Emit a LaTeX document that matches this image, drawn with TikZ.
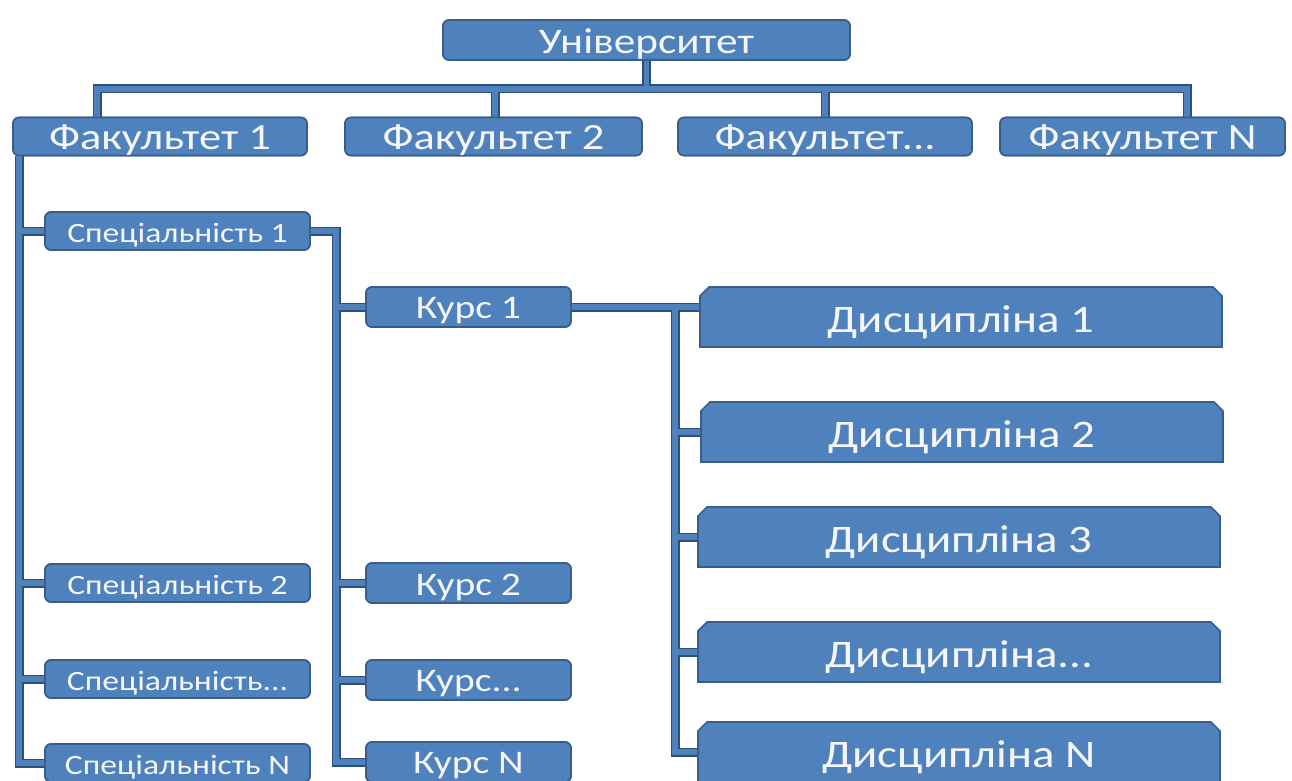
\documentclass[tikz,border=0pt]{standalone}
\usepackage{fontspec}
\setmainfont{Carlito}[FakeStretch=1.2]
\usetikzlibrary{calc}
\definecolor{boxfill}{HTML}{4F81BD}
\definecolor{boxline}{HTML}{385D8A}
\definecolor{wireline}{HTML}{2E4F78}
\definecolor{txt}{HTML}{F4F6FA}
\tikzset{
  base/.style={fill=boxfill, draw=boxline, line width=1.6pt, text=txt, inner sep=0pt, anchor=center},
  rbox/.style={base, rounded corners=6pt},
  univ/.style={rbox, minimum width=407pt, minimum height=40pt, font=\fontsize{36}{36}\selectfont},
  fac/.style={rbox, minimum height=38pt, font=\fontsize{37}{37}\selectfont},
  spec/.style={rbox, minimum width=265pt, minimum height=38pt, font=\fontsize{28}{28}\selectfont},
  kurs/.style={rbox, minimum width=205pt, minimum height=40pt, font=\fontsize{33}{33}\selectfont},
  disctext/.style={text=txt, inner sep=0pt, minimum width=522pt, minimum height=60pt, font=\fontsize{39}{39}\selectfont},
  discshape/.style={fill=boxfill, draw=boxline, line width=1.6pt},
  wireout/.style={draw=wireline, line width=9pt},
  wirein/.style={draw=boxfill, line width=5.5pt},
}
\newcommand\lw[1]{\raisebox{-4pt}[\height][\depth]{#1}}
\newcommand\discbox[4]{%
  \path[discshape] (#2-261,#3+30) -- (#2-261,#3-21) -- (#2-252,#3-30) -- (#2+252,#3-30) -- (#2+261,#3-21) -- (#2+261,#3+30) -- cycle;
  \node[disctext] (#1) at (#2,#3) {\raisebox{-5pt}[\height][\depth]{#4}};}
\begin{document}
\begin{tikzpicture}[x=1pt,y=-1pt]
\useasboundingbox (0,0) rectangle (1292,781);
\clip (0,0) rectangle (1292,781);
\fill[white] (0,0) rectangle (1292,781);
% named coordinates for connector bends
\coordinate (bus) at (0,89);
\coordinate (b1) at (97,89);
\coordinate (b2) at (495,89);
\coordinate (b3) at (825,89);
\coordinate (b4) at (1187,89);
\coordinate (sx) at (19,0);
\coordinate (kx) at (336,0);
\coordinate (dx) at (675,0);
% node placement (boxes are drawn again on top of the wires)
\path node[univ] (U) at (646.5,40) {}
  node[fac, minimum width=294pt] (F1) at (160,136.5) {}
  node[fac, minimum width=297pt] (F2) at (493.5,136.5) {}
  node[fac, minimum width=294pt] (F3) at (825,136.5) {}
  node[fac, minimum width=285pt] (F4) at (1142.5,136.5) {}
  node[spec] (S1) at (177.5,231) {}
  node[spec] (S2) at (177.5,583) {}
  node[spec] (S3) at (177.5,679) {}
  node[spec] (S4) at (177.5,763) {}
  node[kurs] (K1) at (468.5,307) {}
  node[kurs] (K2) at (468.5,583) {}
  node[kurs] (K3) at (468.5,680) {}
  node[kurs] (K4) at (468.5,762) {};
\path node[disctext] (D1) at (961,317) {}
      node[disctext] (D2) at (962,432) {}
      node[disctext] (D3) at (959,537) {}
      node[disctext] (D4) at (959,652) {}
      node[disctext] (D5) at (959,752) {};
\newcommand\wires[1]{%
  \draw[#1] (U.south) -- (U.south |- bus);
  \draw[#1] (b1 |- F1.north) -- (b1) -- (b4) -- (b4 |- F4.north);
  \draw[#1] (b2) -- (b2 |- F2.north);
  \draw[#1] (b3) -- (b3 |- F3.north);
  \draw[#1] (sx |- F1.south) -- (sx |- S4.west) -- (S4.west);
  \draw[#1] (sx |- S1.west) -- (S1.west);
  \draw[#1] (sx |- S2.west) -- (S2.west);
  \draw[#1] (sx |- S3.west) -- (S3.west);
  \draw[#1] (S1.east) -- (kx |- S1.east) -- (kx |- K4.west) -- (K4.west);
  \draw[#1] (kx |- K1.west) -- (K1.west);
  \draw[#1] (kx |- K2.west) -- (K2.west);
  \draw[#1] (kx |- K3.west) -- (K3.west);
  \draw[#1] (K1.east) -- (K1.east -| D1.west);
  \draw[#1] (dx |- K1.east) -- (dx |- D5.west) -- (D5.west);
  \draw[#1] (dx |- D2.west) -- (D2.west);
  \draw[#1] (dx |- D3.west) -- (D3.west);
  \draw[#1] (dx |- D4.west) -- (D4.west);
}
\wires{wireout}
\wires{wirein}
% boxes on top of wires
\node[univ] at (U) {\lw{Університет}};
\node[fac, minimum width=294pt] at (F1) {\lw{Факультет 1}};
\node[fac, minimum width=297pt] at (F2) {\lw{Факультет 2}};
\node[fac, minimum width=294pt] at (F3) {\lw{Факультет...}};
\node[fac, minimum width=285pt] at (F4) {\lw{Факультет N}};
\node[spec] at (S1) {\lw{Спеціальність 1}};
\node[spec] at (S2) {\lw{Спеціальність 2}};
\node[spec] at (S3) {\lw{Спеціальність...}};
\node[spec] at (S4) {\lw{Спеціальність N}};
\node[kurs] at (K1) {\lw{Курс 1}};
\node[kurs] at (K2) {\lw{Курс 2}};
\node[kurs] at (K3) {\lw{Курс...}};
\node[kurs] at (K4) {\lw{Курс N}};
\discbox{D1t}{961}{317}{Дисципліна 1}
\discbox{D2t}{962}{432}{Дисципліна 2}
\discbox{D3t}{959}{537}{Дисципліна 3}
\discbox{D4t}{959}{652}{Дисципліна...}
\discbox{D5t}{959}{752}{Дисципліна N}
\end{tikzpicture}
\end{document}
